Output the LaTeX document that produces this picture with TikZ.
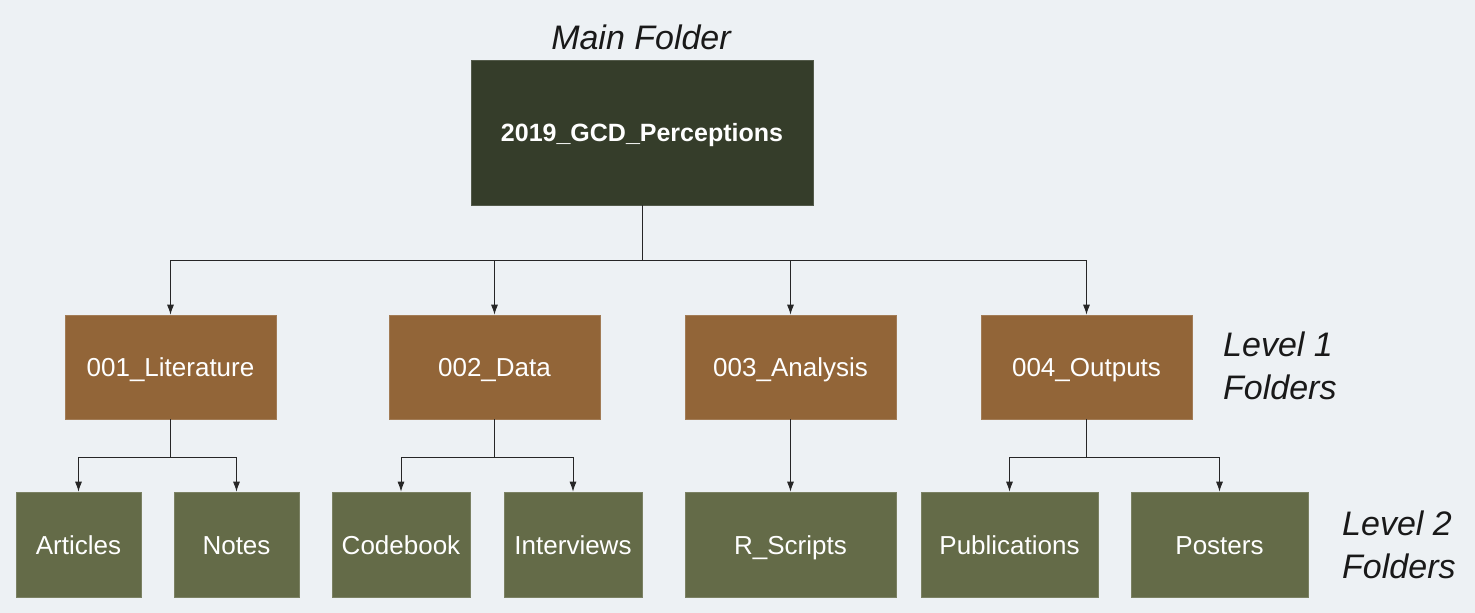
\documentclass[tikz,border=0pt]{standalone}
\usepackage{fontspec}
\setmainfont{Liberation Sans}
\usetikzlibrary{arrows.meta}
\definecolor{bgcol}{HTML}{EDF1F4}
\definecolor{rootcol}{HTML}{353D2A}
\definecolor{lvlonecol}{HTML}{926538}
\definecolor{lvltwocol}{HTML}{646B48}
\begin{document}
\begin{tikzpicture}[x=1pt,y=-1pt,
  folder/.style={inner sep=0pt, text=white, font=\fontsize{26}{30}\selectfont, text height=19pt, text depth=0pt, draw=#1!85!white, line width=0.6pt, fill=#1},
  rootbox/.style={folder=rootcol, minimum width=342pt, minimum height=145pt, font=\bfseries\fontsize{25}{30}\selectfont, text height=18pt},
  lvlone/.style={folder=lvlonecol, minimum width=211pt, minimum height=104pt},
  lvltwo/.style={folder=lvltwocol, minimum height=105pt},
  tag/.style={font=\itshape\fontsize{34}{43}\selectfont, text=black!90, inner sep=0pt},
  link/.style={draw=black!85, line width=0.9pt, -{Latex[length=10pt,width=7pt]}}]
  % background and page size
  \fill[bgcol] (0,0) rectangle (1475,613);
  \useasboundingbox (0,0) rectangle (1475,613);

  % root folder
  \node[rootbox] (root) at (642,132.5) {2019\_GCD\_Perceptions};
  \node[tag] (maintag) at (641,37) {Main Folder};

  % level 1 folders
  \node[lvlone] (lit) at (170.5,367) {001\_Literature};
  \node[lvlone] (dat) at (494.5,367) {002\_Data};
  \node[lvlone] (ana) at (790.5,367) {003\_Analysis};
  \node[lvlone] (out) at (1086.5,367) {004\_Outputs};
  \node[tag, align=left, anchor=west] (lvlonetag) at (1223,366) {Level 1\\Folders};

  % level 2 folders
  \node[lvltwo, minimum width=125pt] (art) at (78.5,544.5) {Articles};
  \node[lvltwo, minimum width=125pt] (not) at (236.5,544.5) {Notes};
  \node[lvltwo, minimum width=138pt] (cod) at (401,544.5) {Codebook};
  \node[lvltwo, minimum width=138pt] (int) at (573,544.5) {Interviews};
  \node[lvltwo, minimum width=211pt] (rsc) at (790.5,544.5) {R\_Scripts};
  \node[lvltwo, minimum width=177pt] (pub) at (1009.5,544.5) {Publications};
  \node[lvltwo, minimum width=177pt] (pos) at (1219.5,544.5) {Posters};
  \node[tag, align=left, anchor=west] (lvltwotag) at (1342,545) {Level 2\\Folders};

  % junction points of the connectors
  \coordinate (jroot) at (642,260);
  \coordinate (jlit) at (170.5,457);
  \coordinate (jdat) at (494.5,457);
  \coordinate (jout) at (1086.5,457);

  % root to level 1
  \foreach \c in {lit,dat,ana,out}
    \draw[link] (root) -- (jroot) -| (\c);

  % level 1 to level 2
  \draw[link] (lit) -- (jlit) -| (art);
  \draw[link] (lit) -- (jlit) -| (not);
  \draw[link] (dat) -- (jdat) -| (cod);
  \draw[link] (dat) -- (jdat) -| (int);
  \draw[link] (ana) -- (rsc);
  \draw[link] (out) -- (jout) -| (pub);
  \draw[link] (out) -- (jout) -| (pos);
\end{tikzpicture}
\end{document}
